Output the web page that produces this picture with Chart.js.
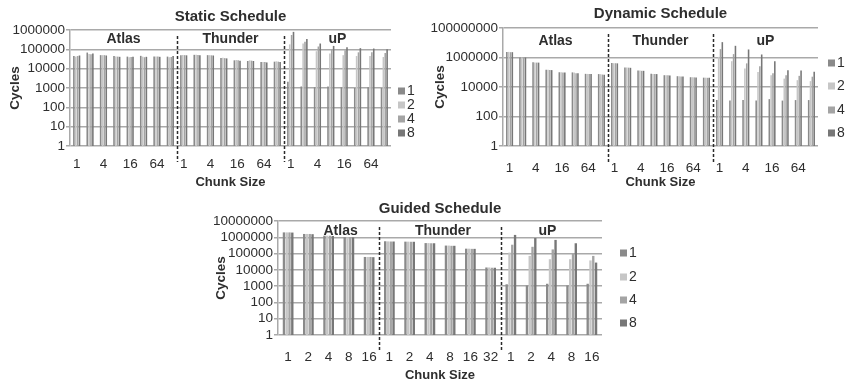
<!DOCTYPE html>
<html>
<head>
<meta charset="utf-8">
<script src="https://cdn.jsdelivr.net/npm/chart.js@4.4.1/dist/chart.umd.min.js"></script>
<style>
  body { margin: 0; background: #fff; width: 845px; height: 383px; position: relative; overflow: hidden; }
  canvas { position: absolute; }
</style>
</head>
<body>
<canvas id="staticChart" width="420" height="190" style="left:0;top:0"></canvas>
<canvas id="dynamicChart" width="425" height="190" style="left:420px;top:0"></canvas>
<canvas id="guidedChart" width="460" height="188" style="left:190px;top:195px"></canvas>
<script>
const machines = ['Atlas', 'Thunder', 'uP'];
const threadCounts = ['1', '2', '4', '8'];
const threadColors = ['#8a8a8a', '#c6c6c6', '#a4a4a4', '#777777'];

// chunk sizes per machine
const chunks = ['1', '2', '4', '8', '16', '32', '64', '128'];
const chunkTicks = ['1', '', '4', '', '16', '', '64', ''];
const guidedAtlasChunks = ['1', '2', '4', '8', '16'];
const guidedThunderChunks = ['1', '2', '4', '8', '16', '32'];
const guidedUpChunks = ['1', '2', '4', '8', '16'];

const staticYTicks = [1, 10, 100, 1000, 10000, 100000, 1000000];
const dynamicYTicks = [1, 100, 10000, 1000000, 100000000];
const guidedYTicks = [1, 10, 100, 1000, 10000, 100000, 1000000, 10000000];

// Static schedule: Atlas (8) | Thunder (8) | uP (8)
const static1 = [45000, 68000, 50000, 45000, 42000, 46000, 42000, 42000,
  50000, 52000, 50000, 36000, 27000, 25000, 22000, 23000,
  2100, 1200, 1100, 1200, 1100, 1000, 1100, 1000];
const static2 = [42000, 58000, 50000, 42000, 39000, 42000, 42000, 39000,
  51000, 53000, 50000, 37000, 28000, 27000, 22000, 24000,
  180000, 200000, 80000, 60000, 50000, 45000, 45000, 40000];
const static4 = [45000, 55000, 50000, 42000, 40000, 39000, 42000, 40000,
  50000, 51000, 49000, 35000, 27000, 26000, 22000, 23000,
  550000, 250000, 140000, 100000, 90000, 70000, 70000, 65000];
const static8 = [48000, 60000, 48000, 41000, 41000, 41000, 41000, 45000,
  49000, 50000, 48000, 34000, 26000, 25000, 21000, 22000,
  800000, 340000, 200000, 150000, 130000, 115000, 110000, 100000];

// Dynamic schedule
const dynamic1 = [2400000, 1000000, 470000, 145000, 100000, 98000, 78000, 75000,
  420000, 210000, 130000, 78000, 63000, 54000, 46000, 43000,
  1300, 1200, 1300, 1200, 1500, 1200, 1300, 1300];
const dynamic2 = [2400000, 1000000, 460000, 145000, 100000, 95000, 77000, 74000,
  410000, 210000, 130000, 77000, 63000, 53000, 46000, 43000,
  1100000, 560000, 180000, 105000, 63000, 37000, 29000, 25000];
const dynamic4 = [2300000, 1000000, 450000, 140000, 98000, 85000, 76000, 70000,
  410000, 205000, 125000, 75000, 62000, 52000, 45000, 42000,
  3700000, 1700000, 400000, 260000, 85000, 63000, 57000, 50000];
const dynamic8 = [2300000, 1000000, 450000, 140000, 98000, 85000, 76000, 68000,
  400000, 200000, 125000, 75000, 60000, 52000, 44000, 42000,
  11000000, 6200000, 3500000, 1600000, 560000, 135000, 130000, 110000];

// Guided schedule: Atlas (5) | Thunder (6) | uP (5)
const guided1 = [2000000, 1600000, 1250000, 1000000, 62000,
  570000, 540000, 440000, 310000, 200000, 14000,
  1300, 1100, 1400, 1100, 1400];
const guided2 = [2000000, 1600000, 1250000, 1000000, 62000,
  560000, 540000, 440000, 310000, 200000, 14000,
  115000, 72000, 45000, 45000, 38000];
const guided4 = [2000000, 1600000, 1250000, 1000000, 62000,
  550000, 530000, 430000, 300000, 195000, 13500,
  350000, 260000, 180000, 100000, 72000];
const guided8 = [1950000, 1550000, 1200000, 980000, 60000,
  550000, 530000, 430000, 300000, 195000, 13500,
  1400000, 900000, 690000, 430000, 28000];

const textColor = '#2e2e2e';
const gridColor = '#a9a9a9';
const fontFamily = '"Liberation Sans", Arial, Helvetica, sans-serif';

// group captions, dashed separators and the legend column
const groupPlugin = {
  id: 'groups',
  afterDatasetsDraw(chart, args, opts) {
    const { ctx, chartArea, scales: { x } } = chart;
    const total = opts.sizes.reduce((a, b) => a + b, 0);
    const edge = i => (x.getPixelForValue(i - 1) + x.getPixelForValue(i)) / 2;
    ctx.save();
    let start = 0;
    opts.sizes.forEach((n, g) => {
      const end = start + n;
      const left = start === 0 ? chartArea.left : edge(start);
      const right = end >= total ? chartArea.right : edge(end);
      ctx.fillStyle = textColor;
      ctx.font = 'bold 14px ' + fontFamily;
      ctx.textAlign = 'center';
      ctx.textBaseline = 'middle';
      ctx.fillText(machines[g], (left + right) / 2 + opts.shift[g], chartArea.top + opts.labelY);
      if (start > 0) {
        ctx.beginPath();
        ctx.setLineDash([3, 2]);
        ctx.lineWidth = 1.5;
        ctx.strokeStyle = '#2a2a2a';
        ctx.moveTo(Math.round(left) + 0.5, chartArea.top + 6);
        ctx.lineTo(Math.round(left) + 0.5, chartArea.bottom + 16);
        ctx.stroke();
        ctx.setLineDash([]);
      }
      start = end;
    });
    // legend
    ctx.font = '14px ' + fontFamily;
    ctx.textAlign = 'left';
    chart.data.datasets.forEach((ds, i) => {
      const lx = chartArea.right + opts.legendX;
      const ly = chartArea.top + opts.legendRows[i];
      ctx.fillStyle = ds.backgroundColor;
      ctx.fillRect(lx, ly - 3.5, 7, 7);
      ctx.fillStyle = textColor;
      ctx.fillText(ds.label, lx + 9, ly);
    });
    ctx.restore();
  }
};

function buildChart(id, cfg) {
  return new Chart(document.getElementById(id), {
    type: 'bar',
    data: {
      labels: cfg.categories,
      datasets: threadCounts.map((t, i) => ({
        label: t,
        data: cfg.series[i],
        backgroundColor: threadColors[i],
        categoryPercentage: cfg.catPct,
        barPercentage: 0.85
      }))
    },
    options: {
      responsive: false,
      animation: false,
      layout: { padding: { left: 0, right: cfg.padRight, top: 0, bottom: 0 } },
      plugins: {
        legend: { display: false },
        tooltip: { enabled: false },
        title: {
          display: true,
          text: cfg.title,
          fullSize: false,
          color: textColor,
          font: { family: fontFamily, size: 15, weight: 'bold' },
          padding: cfg.titlePad
        },
        groups: cfg.groups
      },
      scales: {
        x: {
          grid: { display: false, drawTicks: false },
          border: { display: false },
          ticks: {
            autoSkip: false,
            maxRotation: 0,
            padding: cfg.xTickPad,
            color: textColor,
            font: { family: fontFamily, size: 13.5 },
            callback: (v, i) => cfg.tickLabels[i]
          },
          title: {
            display: true,
            text: 'Chunk Size',
            color: textColor,
            font: { family: fontFamily, size: 13, weight: 'bold' },
            padding: { top: 0, bottom: 0 }
          },
          afterFit: s => { s.height = cfg.xHeight; }
        },
        y: {
          type: 'logarithmic',
          min: 1,
          max: cfg.yTicks[cfg.yTicks.length - 1],
          afterBuildTicks: s => { s.ticks = cfg.yTicks.map(v => ({ value: v })); },
          grid: { color: gridColor, lineWidth: 1.5, tickLength: 4 },
          border: { color: gridColor, width: 1.5 },
          ticks: {
            autoSkip: false,
            padding: 1,
            color: textColor,
            font: { family: fontFamily, size: 13.5 },
            callback: v => String(v)
          },
          title: {
            display: true,
            text: 'Cycles',
            color: textColor,
            font: { family: fontFamily, size: 13.5, weight: 'bold' },
            padding: { top: cfg.yTitlePad, bottom: 0 }
          },
          afterFit: s => { s.width = cfg.yWidth; }
        }
      }
    },
    plugins: [groupPlugin]
  });
}

const eightGroups = machines.flatMap(m => chunks.map(c => m + ' ' + c));

buildChart('staticChart', {
  title: 'Static Schedule',
  categories: eightGroups,
  tickLabels: [...chunkTicks, ...chunkTicks, ...chunkTicks],
  series: [static1, static2, static4, static8],
  yTicks: staticYTicks,
  catPct: 0.56,
  padRight: 29, yWidth: 70, xHeight: 44, xTickPad: 10, yTitlePad: 7,
  titlePad: { top: 8, bottom: 4 },
  groups: { sizes: [8, 8, 8], shift: [0, 0, 0], labelY: 9, legendX: 7, legendRows: [61, 75, 89, 103] }
});

buildChart('dynamicChart', {
  title: 'Dynamic Schedule',
  categories: eightGroups,
  tickLabels: [...chunkTicks, ...chunkTicks, ...chunkTicks],
  series: [dynamic1, dynamic2, dynamic4, dynamic8],
  yTicks: dynamicYTicks,
  catPct: 0.56,
  padRight: 27, yWidth: 83, xHeight: 44, xTickPad: 14, yTitlePad: 12,
  titlePad: { top: 5, bottom: 5 },
  groups: { sizes: [8, 8, 8], shift: [0, 0, 0], labelY: 13, legendX: 10, legendRows: [35, 58, 82, 105] }
});

buildChart('guidedChart', {
  title: 'Guided Schedule',
  categories: [
    ...guidedAtlasChunks.map(c => 'Atlas ' + c),
    ...guidedThunderChunks.map(c => 'Thunder ' + c),
    ...guidedUpChunks.map(c => 'uP ' + c)
  ],
  tickLabels: [...guidedAtlasChunks, ...guidedThunderChunks, ...guidedUpChunks],
  series: [guided1, guided2, guided4, guided8],
  yTicks: guidedYTicks,
  catPct: 0.55,
  padRight: 48, yWidth: 88, xHeight: 48, xTickPad: 14, yTitlePad: 23,
  titlePad: { top: 5, bottom: 3 },
  groups: { sizes: [5, 6, 5], shift: [12, 3, -4], labelY: 10, legendX: 18, legendRows: [32, 56, 79, 102] }
});
</script>
</body>
</html>
